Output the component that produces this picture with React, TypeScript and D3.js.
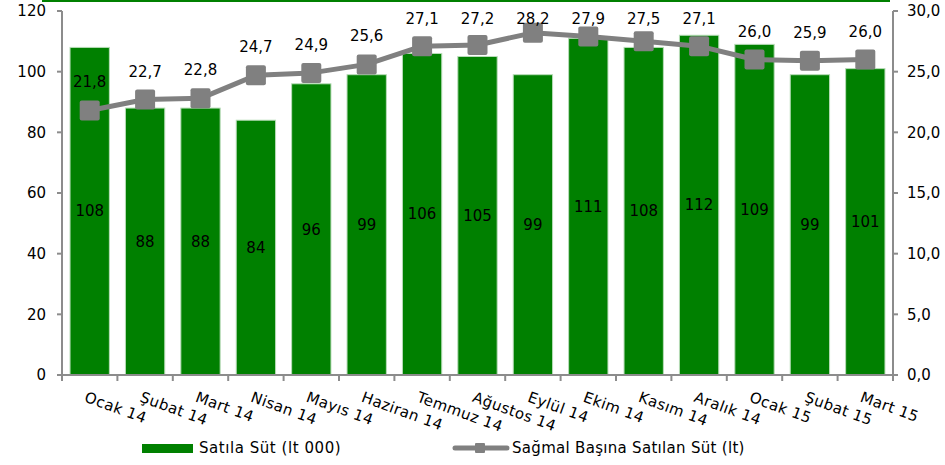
import React from "react";
import * as d3 from "d3";

const categories = ["Ocak 14", "Şubat 14", "Mart 14", "Nisan 14", "Mayıs 14", "Haziran 14", "Temmuz 14", "Ağustos 14", "Eylül 14", "Ekim 14", "Kasım 14", "Aralık 14", "Ocak 15", "Şubat 15", "Mart 15"];
const barValues = [108, 88, 88, 84, 96, 99, 106, 105, 99, 111, 108, 112, 109, 99, 101];
const lineValues = [21.8, 22.7, 22.8, 24.7, 24.9, 25.6, 27.1, 27.2, 28.2, 27.9, 27.5, 27.1, 26.0, 25.9, 26.0];
const leftTicks = [0, 20, 40, 60, 80, 100, 120];
const rightTicks = [0, 5, 10, 15, 20, 25, 30];
const barSeriesName = "Satıla Süt (lt 000)";
const lineSeriesName = "Sağmal Başına Satılan Süt (lt)";

const W = 945, H = 465;
const L = 62, R = 893, TOP = 11, BOT = 375;
const FONT = "Verdana, 'DejaVu Sans', sans-serif";
const GREEN = "#008000";
const GREY = "#808080";
const AXIS = "#8c8c8c";

export default function App() {
  const x = d3.scaleBand<string>().domain(categories).range([L, R]).paddingInner(0.29).paddingOuter(0.145);
  const step = (R - L) / categories.length;
  const yL = d3.scaleLinear().domain([0, 120]).range([BOT, TOP]);
  const yR = d3.scaleLinear().domain([0, 30]).range([BOT, TOP]);
  const cx = (c: string) => (x(c) as number) + x.bandwidth() / 2;
  const line = d3.line<number>().x((_, i) => cx(categories[i])).y((d) => yR(d));
  const fmt = (v: number) => v.toFixed(1).replace(".", ",");

  return (
    <svg width={W} height={H} style={{ position: "absolute", left: 0, top: 0, background: "#fff" }} fontFamily={FONT}>
      <line x1={42} x2={890} y1={1} y2={1} stroke={GREEN} strokeWidth={2} />
      {/* bars */}
      {categories.map((c, i) => (
        <rect key={c} x={x(c)} y={yL(barValues[i])} width={x.bandwidth()} height={BOT - yL(barValues[i])}
          fill={GREEN} stroke="#b8dcb8" strokeWidth={1} />
      ))}
      {/* axes */}
      <line x1={L} x2={L} y1={TOP} y2={BOT} stroke={AXIS} strokeWidth={2} />
      <line x1={R} x2={R} y1={TOP} y2={BOT} stroke={AXIS} strokeWidth={2} />
      <line x1={L - 5} x2={R + 5} y1={BOT} y2={BOT} stroke={AXIS} strokeWidth={2} />
      {leftTicks.map((t) => (
        <g key={"l" + t}>
          <line x1={L - 5} x2={L} y1={yL(t)} y2={yL(t)} stroke={AXIS} strokeWidth={2} />
          <text x={46} y={yL(t)} dy="0.35em" textAnchor="end" fontSize={15} fill="#000">{t}</text>
        </g>
      ))}
      {rightTicks.map((t) => (
        <g key={"r" + t}>
          <line x1={R} x2={R + 5} y1={yR(t)} y2={yR(t)} stroke={AXIS} strokeWidth={2} />
          <text x={907} y={yR(t)} dy="0.35em" textAnchor="start" fontSize={15} fill="#000">{fmt(t)}</text>
        </g>
      ))}
      {d3.range(categories.length + 1).map((i) => (
        <line key={"xt" + i} x1={L + i * step} x2={L + i * step} y1={BOT} y2={BOT + 6} stroke={AXIS} strokeWidth={2} />
      ))}
      {/* bar labels */}
      {categories.map((c, i) => (
        <text key={"bl" + c} x={cx(c)} y={yL(barValues[i] / 2)} dy="0.35em" textAnchor="middle" fontSize={15} fill="#000">
          {barValues[i]}
        </text>
      ))}
      {/* line */}
      <path d={line(lineValues) || ""} fill="none" stroke={GREY} strokeWidth={5} strokeLinejoin="round" />
      {categories.map((c, i) => (
        <rect key={"m" + c} x={cx(c) - 10} y={yR(lineValues[i]) - 10} width={20} height={20} rx={2} fill={GREY} />
      ))}
      {categories.map((c, i) => (
        <text key={"ll" + c} x={cx(c)} y={Math.max(yR(lineValues[i]) - 23, 24)} textAnchor="middle" fontSize={15} fill="#000">
          {fmt(lineValues[i])}
        </text>
      ))}
      {/* x labels */}
      {categories.map((c) => (
        <text key={"xl" + c} transform={`translate(${cx(c) - 2},${390}) rotate(20)`} dy="0.8em" textAnchor="start" fontSize={15} letterSpacing={0.4} fill="#000">
          {c}
        </text>
      ))}
      {/* legend */}
      <rect x={142} y={444} width={51} height={9} fill={GREEN} />
      <text x={199} y={448} dy="0.35em" fontSize={15} letterSpacing={0.55} fill="#000">{barSeriesName}</text>
      <line x1={455} x2={507} y1={448} y2={448} stroke={GREY} strokeWidth={5} strokeLinecap="round" />
      <rect x={475} y={443} width={10} height={10} rx={1} fill={GREY} />
      <text x={512} y={448} dy="0.35em" fontSize={15} letterSpacing={0.3} fill="#000">{lineSeriesName}</text>
    </svg>
  );
}
